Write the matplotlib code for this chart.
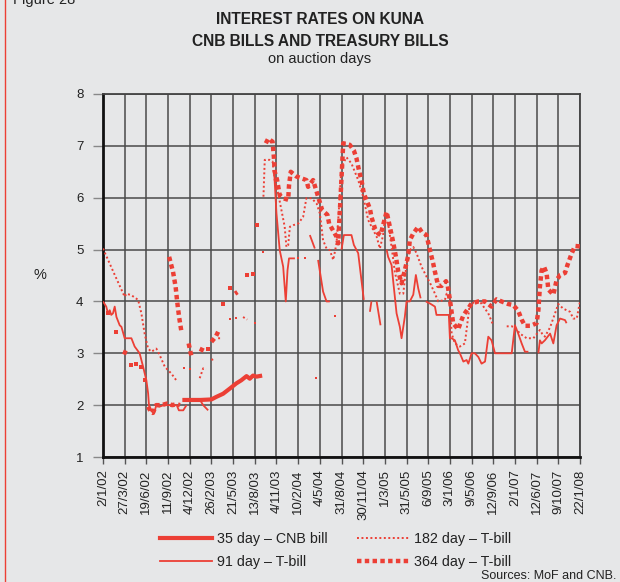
import matplotlib
matplotlib.use("Agg")
import matplotlib.pyplot as plt
from matplotlib.lines import Line2D
import numpy as np

nan = np.nan

# auction dates shown on the x axis (evenly spaced category ticks)
dates = ['2/1/02', '27/3/02', '19/6/02', '11/9/02', '4/12/02', '26/2/03', '21/5/03',
         '13/8/03', '4/11/03', '10/2/04', '4/5/04', '31/8/04', '30/11/04', '1/3/05',
         '31/5/05', '6/9/05', '3/1/06', '9/5/06', '12/9/06', '2/1/07', '12/6/07',
         '9/10/07', '22/1/08']

# positions are in units of the tick spacing, values in %
x35 = [3.66, 4.0, 4.5, 5.0, 5.23, 5.54, 5.85, 6.15, 6.38, 6.62, 6.77, 6.92, 7.08, 7.34]
y35 = [2.10, 2.10, 2.10, 2.11, 2.16, 2.22, 2.32, 2.42, 2.48, 2.56, 2.51, 2.57, 2.55, 2.57]

x91 = [0.0, 0.15, 0.23, 0.31, 0.38, 0.46, 0.54, 0.62, 0.77, 0.85, 1.0, 1.31, 1.46, 1.69,
       1.85, 2.0, 2.08, 2.12, 2.2, 2.35, 2.46, 2.6, 2.8, 3.0, 3.2, 3.4, 3.5, 3.7, 3.85,
       nan, 4.46, 4.62, 4.85,
       nan, 7.89, 8.0, 8.15, 8.31, 8.43, 8.51, 8.58, 8.85, nan, 9.0, nan, 9.31,
       nan, 9.54, 9.77, nan, 9.81, nan, 9.92, 10.15, 10.31, 10.46, nan, 10.69,
       nan, 11.0, 11.11, 11.46, 11.57, 11.77, 11.92, 12.03, nan, 12.31, 12.38,
       nan, 12.62, 12.8, nan, 13.08, 13.15, 13.31, 13.38, 13.54, 13.69, 13.77, 13.92,
       14.0, 14.15, 14.31, 14.43, 14.54, 14.65, nan, 14.89, 15.08, 15.31, 15.38, 15.95,
       16.0, 16.08, 16.23, 16.38, 16.46, 16.62, 16.77, 16.85, 17.0, 17.15, 17.31, 17.46,
       17.62, 17.77, 17.92, 18.08, 18.46, 18.85, 19.0, 19.15, 19.31, 19.46, 19.62,
       nan, 20.08, 20.15, 20.23, 20.38, 20.62, 20.77, 20.92, 21.08, 21.31, 21.38]
y91 = [4.0, 3.9, 3.77, 3.83, 3.74, 3.77, 3.9, 3.70, 3.54, 3.51, 3.29, 3.29, 3.13, 3.0,
       2.74, 2.48, 2.23, 2.0, 1.9, 1.84, 2.0, 1.97, 2.0, 2.0, 2.0, 2.0, 1.9, 1.9, 2.0,
       nan, 2.11, 2.0, 1.9,
       nan, 6.53, 5.70, 4.99, 4.67, 4.0, 4.6, 4.83, 4.83, nan, 4.83, nan, 4.83,
       nan, 5.28, 5.02, nan, 2.52, nan, 4.8, 4.19, 4.0, 4.0, nan, 3.72,
       nan, 5.0, 5.28, 5.28, 5.09, 4.93, 4.41, 4.03, nan, 3.80, 4.0,
       nan, 4.0, 3.54, nan, 5.0, 4.86, 4.70, 4.41, 3.77, 3.51, 3.29, 3.70,
       4.0, 4.0, 4.13, 4.51, 4.25, 4.06, nan, 4.0, 3.96, 3.90, 3.74, 3.74,
       3.29, 3.29, 3.25, 3.06, 3.0, 2.84, 2.87, 2.8, 3.0, 3.0, 2.93, 2.8,
       2.84, 3.32, 3.25, 3.0, 3.0, 3.0, 3.54, 3.38, 3.19, 3.03, 3.03,
       nan, 3.0, 3.25, 3.19, 3.25, 3.38, 3.19, 3.54, 3.67, 3.64, 3.58]

x182 = [0.0, 0.5, 1.0, 1.08, 1.31, 1.62, 1.77, 1.92, 2.08, 2.23, 2.46, 2.62, 2.85, 3.15, 3.38,
        nan, 3.74, nan, 4.0, nan, 4.46, 4.62, 4.75, nan, 5.0, 5.15, nan, 5.31, 5.46,
        nan, 5.88, nan, 6.12, nan, 6.46, 6.65, nan, 7.0, nan, 7.36, nan,
        7.4, 7.46, 7.69, 7.82, 7.92, 8.08, 8.23, 8.38, 8.46, 8.54, 8.62, 8.77, 9.0, 9.23,
        9.38, 9.62, 9.85, 10.0, 10.15, 10.31, 10.46, 10.62, 10.77, 10.85, 11.0, 11.23,
        11.46, 11.77, 12.0, 12.23, 12.46, 12.62, 12.77, 12.92, 13.0, 13.15, 13.31, 13.46,
        13.69, 13.85, 14.0, 14.15, 14.31, 14.46, 14.69, 14.92, 15.08, 15.31, 15.46, 15.77,
        15.85, 16.0, 16.08, 16.23, 16.46, 16.69, 16.92, 17.38, 17.77, 18.0, nan, 18.62,
        18.85, 19.0, 19.23, 19.54, 19.85, 20.15, 20.25, 20.38, 20.62, 21.0, 21.23, 21.54,
        21.69, 21.85, 22.0]
y182 = [5.02, 4.55, 4.09, 4.15, 4.12, 4.03, 3.77, 3.38, 3.09, 3.03, 3.09, 2.96, 2.74, 2.61, 2.48,
        nan, 2.71, nan, 2.69, nan, 2.52, 2.71, 2.69, nan, 2.87, 2.9, nan, 3.29, 3.29,
        nan, 3.67, nan, 3.68, nan, 3.70, 3.65, nan, 3.58, nan, 4.96, nan,
        6.02, 6.73, 6.73, 6.70, 6.34, 6.08, 5.76, 5.44, 5.05, 5.08, 5.44, 5.47, 5.5, 5.63,
        5.99, 5.99, 5.89, 5.70, 5.18, 5.02, 4.99, 4.80, 5.12, 5.57, 6.60, 6.78,
        6.66, 6.34, 6.02, 5.57, 5.38, 5.25, 5.02, 5.28, 5.57, 5.5, 5.05, 4.57,
        4.15, 4.15, 4.73, 4.99, 5.05, 4.93, 4.67, 4.48, 4.36, 4.15, 4.0, 4.03,
        4.15, 4.0, 3.38, 3.19, 3.13, 3.19, 3.96, 4.0, 3.77, 3.54, nan, 3.52,
        3.52, 3.5, 3.38, 3.29, 3.29, 3.45, 3.38, 3.32, 3.5, 3.95, 3.86, 3.8,
        3.67, 3.67, 4.0]

x364 = [0.23, nan, 0.58, nan, 0.92, 1.1, nan, 1.31, nan, 1.54, nan, 1.77, nan, 1.92,
        nan, 2.08, 2.2, 2.3, 2.45, 2.7, 2.95, 3.2, 3.4, 3.55,
        nan, 3.05, 3.15, 3.23, 3.3, 3.35, 3.42, 3.51, 3.62, nan, 3.95, 4.03, 4.11,
        nan, 4.51, 4.62, nan, 4.85, nan, 5.0, 5.2, 5.35, nan, 5.54, nan, 5.85,
        nan, 6.09, 6.2, nan, 6.62, nan, 6.92, nan, 7.08,
        nan, 7.51, 7.62, 7.82, 7.88, 7.92, 8.03, 8.15, 8.31, 8.54, 8.58, 8.66, 8.92, 9.18,
        9.38, 9.46, 9.69, 9.92, 10.11, 10.35, 10.43, 10.77, 10.85, 11.08, 11.38, 11.57,
        11.69, 11.82, 11.92, 12.03, 12.31, 12.38, 12.54, 12.69, 12.8, 12.92, 13.08, 13.23,
        13.38, 13.51, 13.62, 13.77, 13.92, 14.08, 14.15, 14.31, 14.54, 14.7, 14.92, 15.08,
        15.23, 15.31, 15.46, 15.62, 15.82, 15.9, 16.0, 16.15, 16.38, 16.5, 16.62, 17.0,
        17.31, 17.62, 17.92, 18.15, 18.38, 18.69, 18.92, 19.15, 19.31, 19.46, 19.72, 20.0,
        20.08, 20.15, 20.23, 20.34, 20.46, 20.54, 20.77, 20.85, 20.92, 21.08, 21.31, 21.42,
        21.62, 21.77, 22.0]
y364 = [3.77, nan, 3.41, nan, 3.03, 3.0, nan, 2.77, nan, 2.8, nan, 2.73, nan, 2.48,
        nan, 1.97, 1.88, 1.85, 2.0, 2.0, 2.03, 2.0, 2.02, 2.0,
        nan, 4.86, 4.7, 4.57, 4.4, 4.28, 4.0, 3.70, 3.41, nan, 3.19, 3.03, 2.9,
        nan, 3.03, 3.13, nan, 3.09, nan, 3.22, 3.32, 3.45, nan, 3.96, nan, 4.25,
        nan, 4.15, 4.18, nan, 4.51, nan, 4.52, nan, 5.47,
        nan, 7.05, 7.14, 7.08, 6.79, 6.5, 6.34, 6.05, 5.99, 5.96, 6.24, 6.5, 6.41, 6.37,
        6.34, 6.21, 6.34, 6.02, 5.76, 5.67, 5.5, 5.25, 5.12, 7.05, 7.02, 6.91,
        6.76, 6.5, 6.34, 6.08, 5.79, 5.63, 5.41, 5.31, 5.28, 5.47, 5.73, 5.44,
        5.15, 4.86, 4.57, 4.35, 4.6, 4.89, 5.18, 5.31, 5.44, 5.34, 5.28, 4.99,
        4.73, 4.57, 4.3, 4.3, 4.39, 4.3, 4.03, 3.58, 3.46, 3.6, 3.73, 3.96,
        4.0, 4.0, 3.9, 4.04, 4.0, 3.95, 3.93, 3.82, 3.65, 3.53, 3.53, 3.58,
        3.83, 4.28, 4.6, 4.67, 4.54, 4.23, 4.13, 4.28, 4.41, 4.51, 4.55, 4.7,
        4.93, 5.07, 5.06]

red = '#ec3f35'
bg = '#e6e7e8'

plt.rcParams['font.family'] = ['Liberation Sans', 'DejaVu Sans']

fig = plt.figure(figsize=(6.2, 5.82), dpi=100, facecolor=bg)
ax = fig.add_axes([103 / 620, 1 - 457 / 582, 477 / 620, 363 / 582], facecolor=bg)


def draw(x, y, lw, dashes, ms):
    x = np.array(x, dtype=float)
    y = np.array(y, dtype=float)
    ax.plot(x, y, color=red, lw=lw, dashes=dashes, solid_capstyle='butt', zorder=3)
    # points with gaps on both sides would not show as a line
    ok = ~np.isnan(y)
    prev = np.r_[False, ok[:-1]]
    nxt = np.r_[ok[1:], False]
    lone = ok & ~prev & ~nxt
    ax.plot(x[lone], y[lone], ls='none', marker='s', ms=ms, color=red, mew=0, zorder=3)


draw(x91, y91, 1.3, (None, None), 1.6)
draw(x182, y182, 1.4, (1.0, 1.3), 1.8)
draw(x364, y364, 3.2, (1.0, 0.75), 3.3)
draw(x35, y35, 3.0, (None, None), 3.0)

ax.set_xlim(0, 22)
ax.set_ylim(1, 8)
ax.set_xticks(range(len(dates)))
ax.set_xticklabels(dates, rotation=90, fontsize=9.5, color='#222222')
ax.set_yticks(range(1, 9))
ax.tick_params(axis='y', labelsize=9.5, length=7, width=1, color='#888888', labelcolor='#222222', pad=7)
ax.tick_params(axis='x', length=5, width=1, color='#555555', pad=4)
ax.grid(True, color='#4a4a4a', lw=1.1, zorder=1)
ax.set_axisbelow(True)
for s in ['top', 'right']:
    ax.spines[s].set_color('#444444')
    ax.spines[s].set_linewidth(1.3)
for s in ['left', 'bottom']:
    ax.spines[s].set_color('#111111')
    ax.spines[s].set_linewidth(2.0)

fig.text(0.516, 1 - 20 / 582, 'INTEREST RATES ON KUNA', ha='center', va='center',
         fontsize=11.2, fontweight='bold', color='#222222')
fig.text(0.516, 1 - 41 / 582, 'CNB BILLS AND TREASURY BILLS', ha='center', va='center',
         fontsize=11.2, fontweight='bold', color='#222222')
fig.text(0.516, 1 - 59 / 582, 'on auction days', ha='center', va='center',
         fontsize=10.5, color='#222222')
fig.text(40 / 620, 1 - 275 / 582, '%', ha='center', va='center', fontsize=10.5, color='#222222')
fig.text(13 / 620, 1.0, 'Figure 28', ha='left', va='center', fontsize=10.5, color='#222222')
fig.text(616 / 620, 1 - 576 / 582, 'Sources: MoF and CNB.', ha='right', va='center',
         fontsize=9, color='#222222')
fig.add_artist(Line2D([5 / 620, 5 / 620], [0, 1], color=red, lw=1, transform=fig.transFigure))

handles = [Line2D([], [], color=red, lw=3.0),
           Line2D([], [], color=red, lw=1.3),
           Line2D([], [], color=red, lw=1.4, dashes=(1.0, 1.3)),
           Line2D([], [], color=red, lw=3.2, dashes=(1.0, 0.75))]
labels = ['35 day – CNB bill', '91 day – T-bill', '182 day – T-bill', '364 day – T-bill']
fig.legend(handles, labels, ncol=2, frameon=False, fontsize=10.3,
           loc='upper left', bbox_to_anchor=(153 / 620, 1 - 525 / 582),
           handlelength=3.6, handletextpad=0.35, columnspacing=2.1, labelspacing=0.6,
           borderpad=0, labelcolor='#222222')

fig.savefig('out.png', dpi=100, facecolor=bg)
